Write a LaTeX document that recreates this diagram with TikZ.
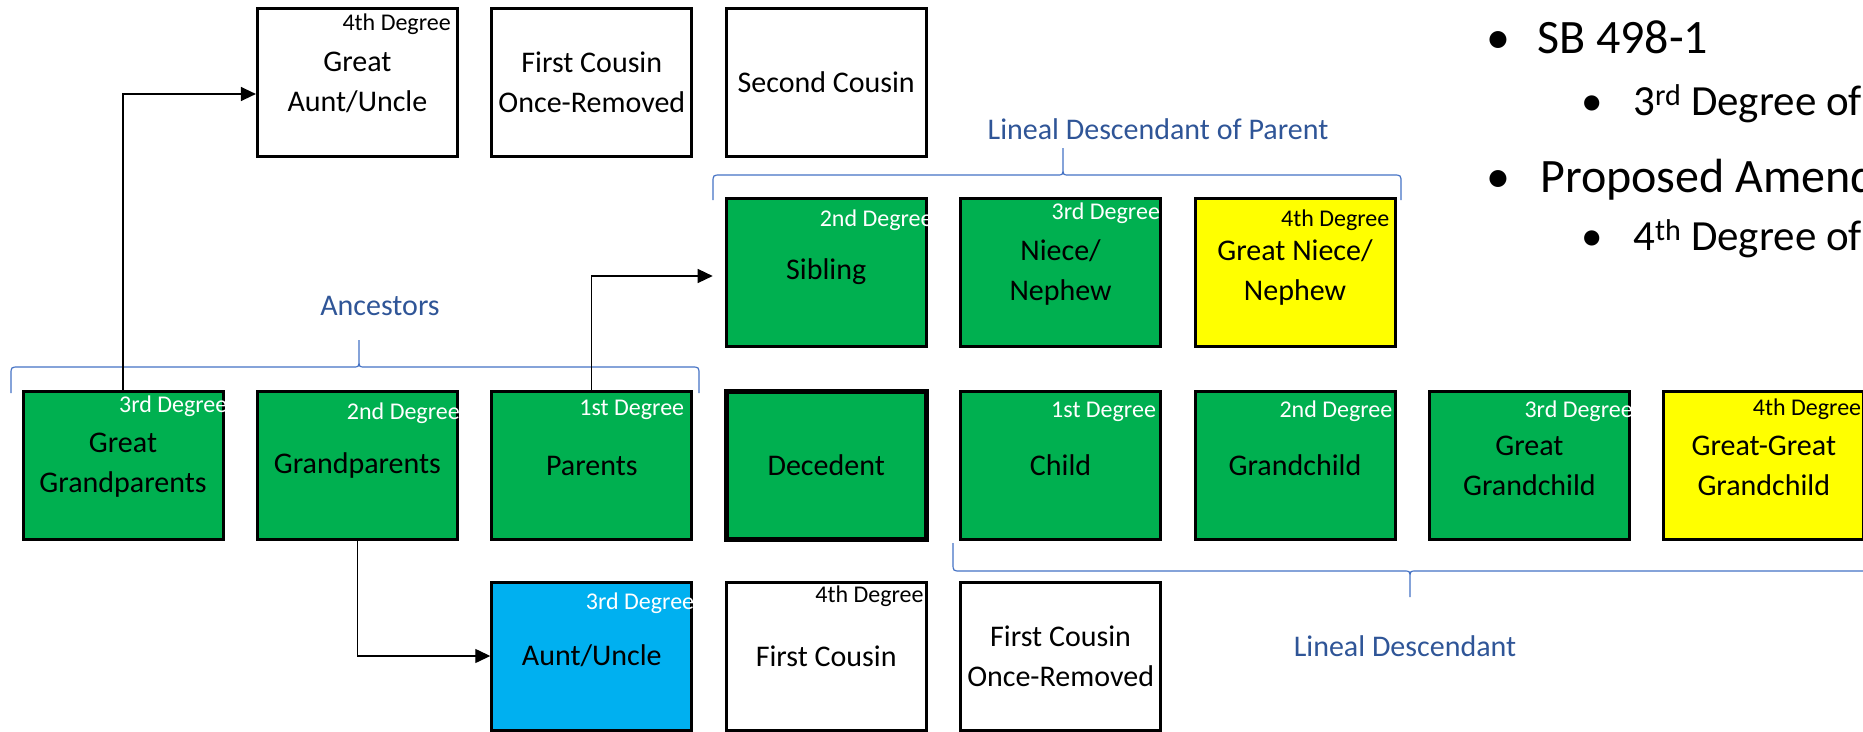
\documentclass[tikz,border=0pt]{standalone}
\usepackage{fontspec}
\setmainfont{Carlito}
\usepackage{tikz}
\usetikzlibrary{arrows.meta}
\definecolor{kingreen}{HTML}{00B050}
\definecolor{kinblue}{HTML}{00B0F0}
\definecolor{kinyellow}{HTML}{FFFF00}
\definecolor{bracecol}{HTML}{4472C4}
\definecolor{tagcol}{HTML}{2F5597}
\newcommand{\boxfont}{\fontsize{30}{40}\selectfont}
\newcommand{\degfont}{\fontsize{24}{28}\selectfont}
\newcommand{\tagfont}{\fontsize{30}{36}\selectfont}
\newcommand{\bulfont}{\fontsize{48}{56}\selectfont}
\newcommand{\subbulfont}{\fontsize{43}{50}\selectfont}
% x1, x2, xtip, yend, yline, ytip, corner
\newcommand{\Brace}[7]{%
  \draw[brace] (#1,#4) -- (#1,{#5+(#7)})
    .. controls (#1,#5) .. ({#1+8},#5) -- ({#3-6},#5)
    .. controls (#3,#5) .. (#3,{#5-(#7)}) -- (#3,#6)
    (#3,{#5-(#7)}) .. controls (#3,#5) .. ({#3+6},#5) -- ({#2-8},#5)
    .. controls (#2,#5) .. (#2,{#5+(#7)}) -- (#2,#4);}

\begin{document}
\begin{tikzpicture}[x=1pt, y=-1pt,
    box/.style={draw, line width=3pt, minimum width=200pt, minimum height=148pt,
      inner sep=0pt, align=center, font=\boxfont},
    gbox/.style={box, fill=kingreen},
    ybox/.style={box, fill=kinyellow},
    bbox/.style={box, fill=kinblue},
    wbox/.style={box, fill=white},
    degw/.style={anchor=base east, inner sep=0pt, font=\degfont, text=white},
    degk/.style={degw, text=black},
    conn/.style={line width=1.3pt, -{Triangle[length=15pt,width=14pt]}},
    brace/.style={draw=bracecol, line width=1.2pt},
    tag/.style={anchor=base, inner sep=0pt, font=\tagfont, text=tagcol},
    bul/.style={anchor=base west, inner sep=0pt, font=\bulfont},
    subbul/.style={anchor=base west, inner sep=0pt, font=\subbulfont},
    dot/.style={anchor=base, inner sep=0pt}]
  \useasboundingbox (0,0) rectangle (1863,731);

  % braces and their tags
  \Brace{11}{699}{359}{393}{367}{340}{8}
  \Brace{713}{1401}{1063}{200}{175}{148}{8}
  \Brace{953}{1867}{1410}{543}{571}{597}{-8}
  \node[tag] (anc) at (380,315) {Ancestors};
  \node[tag] (ldp) at (1158,139) {Lineal Descendant of Parent};
  \node[tag] (ld) at (1405,656) {Lineal Descendant};

  % top row
  \node[wbox] (gaunt) at (357.4,82) {Great\\Aunt/Uncle};
  \node[wbox] (cousinr) at (591.8,82) {First Cousin\\Once-Removed};
  \node[wbox] (cousintwo) at (826.2,82) {Second Cousin};
  % sibling row
  \node[gbox] (sib) at (826.2,272) {Sibling};
  \node[gbox] (niece) at (1060.6,272) {Niece/\\Nephew};
  \node[ybox] (gniece) at (1295,272) {Great Niece/\\Nephew};
  % decedent row
  \node[gbox] (ggp) at (123,465.5) {Great\\Grandparents};
  \node[gbox] (gp) at (357.4,465.5) {Grandparents};
  \node[gbox] (par) at (591.8,465.5) {Parents};
  \node[gbox, line width=5pt] (dec) at (826.2,465.5) {Decedent};
  \node[gbox] (child) at (1060.6,465.5) {Child};
  \node[gbox] (gchild) at (1295,465.5) {Grandchild};
  \node[gbox] (ggchild) at (1529.4,465.5) {Great\\Grandchild};
  \node[ybox] (gggchild) at (1763.8,465.5) {Great-Great\\Grandchild};
  % bottom row
  \node[bbox] (aunt) at (591.8,656) {Aunt/Uncle};
  \node[wbox] (cousin) at (826.2,656) {First Cousin};
  \node[wbox] (cousinrb) at (1060.6,656) {First Cousin\\Once-Removed};

  % degrees
  \node[degk] (gaunt-d) at ([xshift=-8pt,yshift=-24pt]gaunt.north east) {4th Degree};
  \node[degw] (sib-d) at ([xshift=5pt,yshift=-30pt]sib.north east) {2nd Degree};
  \node[degw] (niece-d) at ([xshift=-2pt,yshift=-23pt]niece.north east) {3rd Degree};
  \node[degk] (gniece-d) at ([xshift=-7pt,yshift=-30pt]gniece.north east) {4th Degree};
  \node[degw] (ggp-d) at ([xshift=3pt,yshift=-22pt]ggp.north east) {3rd Degree};
  \node[degw] (gp-d) at ([xshift=1pt,yshift=-29pt]gp.north east) {2nd Degree};
  \node[degw] (par-d) at ([xshift=-9pt,yshift=-25pt]par.north east) {1st Degree};
  \node[degw] (child-d) at ([xshift=-6pt,yshift=-27pt]child.north east) {1st Degree};
  \node[degw] (gchild-d) at ([xshift=-4pt,yshift=-27pt]gchild.north east) {2nd Degree};
  \node[degw] (ggchild-d) at ([xshift=2pt,yshift=-27pt]ggchild.north east) {3rd Degree};
  \node[degk] (gggchild-d) at ([xshift=-4pt,yshift=-25pt]gggchild.north east) {4th Degree};
  \node[degw] (aunt-d) at ([xshift=1pt,yshift=-29pt]aunt.north east) {3rd Degree};
  \node[degk] (cousin-d) at ([xshift=-4pt,yshift=-22pt]cousin.north east) {4th Degree};

  % connectors
  \draw[conn] (ggp.north) |- ([yshift=-12pt]gaunt.west);
  \draw[conn] (par.north) |- ([xshift=-12pt,yshift=-4pt]sib.west);
  \draw[conn] (gp.south) |- (aunt.west);

  % bullets
  \node[dot] (dota) at (1498,53) {\bulfont •};
  \node[bul] (sb) at (1537,53) {SB 498-1};
  \node[dot] (dotb) at (1592,115) {\subbulfont •};
  \node[subbul] (sbsub) at (1633,115) {3\textsuperscript{rd} Degree of};
  \node[dot] (dotc) at (1498,192) {\bulfont •};
  \node[bul] (prop) at (1540,192) {Proposed Amend};
  \node[dot] (dotd) at (1592,250) {\subbulfont •};
  \node[subbul] (propsub) at (1633,250) {4\textsuperscript{th} Degree of};
\end{tikzpicture}
\end{document}
